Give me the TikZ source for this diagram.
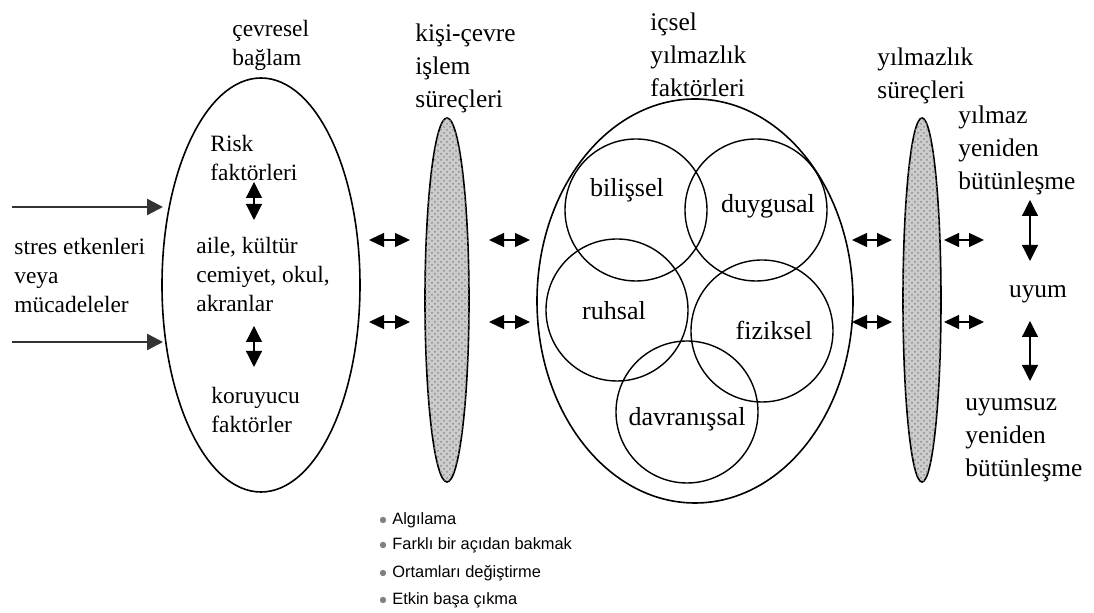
\documentclass[tikz,border=0pt]{standalone}
\usepackage{fontspec}
\setmainfont{Liberation Serif}
\newfontfamily\listfont{Liberation Sans}
\usetikzlibrary{arrows.meta,patterns}

\begin{document}
\begin{tikzpicture}[x=0.5pt, y=-0.5pt, >={Triangle[length=7.5pt, width=7pt]},
    txt/.style={inner sep=0pt, anchor=north west, align=left, font=\fontsize{12.7}{16.6}\selectfont},
    inner/.style={inner sep=0pt, anchor=north west, align=left, font=\fontsize{11.7}{14.4}\selectfont},
    circ/.style={inner sep=0pt, font=\fontsize{13}{15}\selectfont},
    item/.style={inner sep=0pt, anchor=west, font=\listfont\fontsize{8.2}{10}\selectfont},
    lens/.style={draw, line width=0.8pt, fill=gray!40, postaction={pattern=crosshatch dots, pattern color=gray!90}},
    arr/.style={<->, line width=0.6pt},
    varr/.style={{Triangle[length=8pt, width=8pt]}-{Triangle[length=8pt, width=8pt]}, line width=0.6pt}]
\useasboundingbox (0,0) rectangle (1094,613);

% outer shapes
\draw[line width=0.8pt] (261,285) ellipse (99 and 207);
\draw[lens] (447,300) ellipse (22 and 182);
\draw[line width=0.8pt] (695,301) ellipse (158 and 202);
\draw[lens] (922,300) ellipse (19 and 182);
\foreach \cx/\cy in {636/210, 756/210, 617/310, 762/331, 687/412}{
    \draw[line width=0.7pt] (\cx,\cy) circle (71);
}

% texts
\node[inner] (cevresel) at (232,20) {çevresel\\bağlam};
\node[inner] (risk) at (210,135) {Risk\\faktörleri};
\node[inner] (aile) at (196,237) {aile, kültür\\cemiyet, okul,\\akranlar};
\node[inner] (koruyucu) at (211,387) {koruyucu\\faktörler};
\node[inner] (stres) at (14,238) {stres etkenleri\\veya\\mücadeleler};
\node[txt] (kisi) at (415,23) {kişi-çevre\\işlem\\süreçleri};
\node[txt] (icsel) at (650,12) {içsel\\yılmazlık\\faktörleri};
\node[txt] (ysurec) at (877,47) {yılmazlık\\süreçleri};
\node[txt] (yilmaz) at (958,105) {yılmaz\\yeniden\\bütünleşme};
\node[txt, anchor=base] (uyum) at (1038,298) {uyum};
\node[txt] (uyumsuz) at (965,398) {uyumsuz\\yeniden\\bütünleşme};

\node[circ] (bilissel) at (627,190) {bilişsel};
\node[circ] (duygusal) at (768,206) {duygusal};
\node[circ] (ruhsal) at (614,311) {ruhsal};
\node[circ] (fiziksel) at (774,330) {fiziksel};
\node[circ] (davranissal) at (687,419) {davranışsal};

% arrows
\coordinate (S1) at (12,207);
\coordinate (E1) at (163,207);
\coordinate (S2) at (12,342);
\coordinate (E2) at (163,342);
\draw[-{Triangle[length=8pt, width=8pt]}, line width=1.2pt, black!80] (S1) -- (E1);
\draw[-{Triangle[length=8pt, width=8pt]}, line width=1.2pt, black!80] (S2) -- (E2);

\coordinate (R1) at (254,182);
\coordinate (R2) at (254,220);
\coordinate (K1) at (254,326);
\coordinate (K2) at (254,367);
\draw[varr] (R1) -- (R2);
\draw[varr] (K1) -- (K2);

\coordinate (U1) at (1030,200);
\coordinate (U2) at (1030,261);
\coordinate (U3) at (1030,321);
\coordinate (U4) at (1030,381);
\draw[varr] (U1) -- (U2);
\draw[varr] (U3) -- (U4);

\foreach \n/\xa/\xb in {a/369/410, b/489/530, c/852/892, d/944/984}{
    \foreach \m/\y in {1/240, 2/322}{
        \coordinate (\n\m L) at (\xa,\y);
        \coordinate (\n\m R) at (\xb,\y);
        \draw[arr] (\n\m L) -- (\n\m R);
    }
}

% list
\foreach \i/\y/\t in {1/520/Algılama, 2/545/Farklı bir açıdan bakmak, 3/573/Ortamları değiştirme, 4/600/Etkin başa çıkma}{
    \fill[gray] (383,\y) circle (3.2);
    \node[item] (item\i) at (392,\y) {\t};
}
\end{tikzpicture}
\end{document}
